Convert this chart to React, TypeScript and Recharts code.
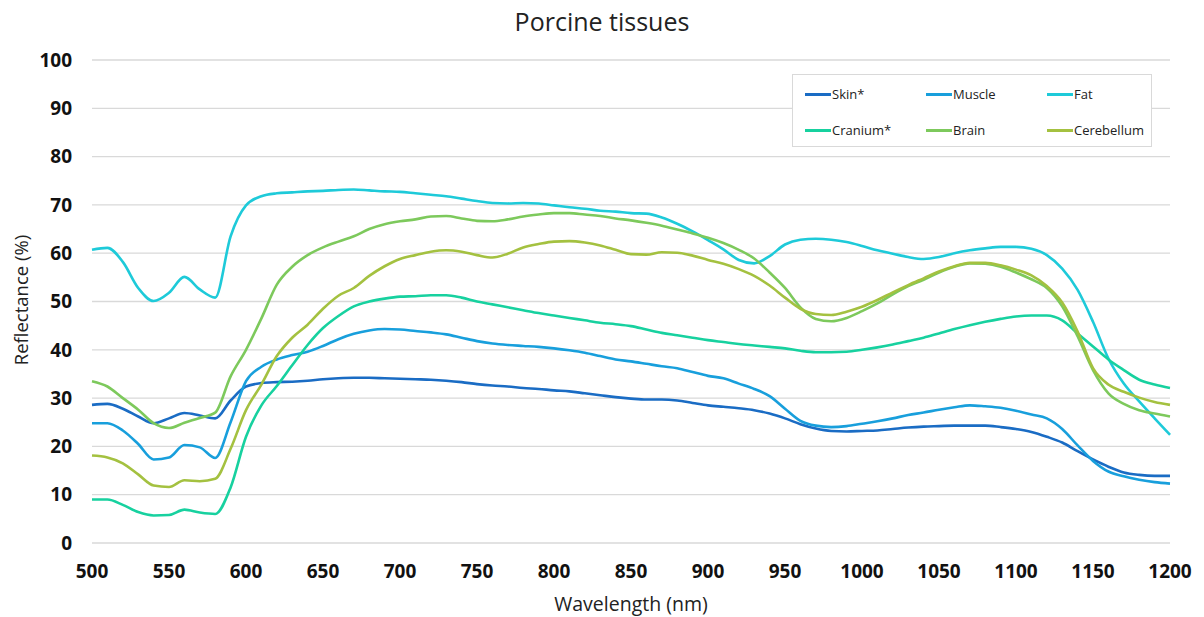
import { LineChart, Line, XAxis, YAxis, CartesianGrid } from "recharts";

const wavelengths: number[] = [];
for (let w = 500; w <= 1200; w += 10) wavelengths.push(w);

const skin = [28.6, 28.8, 27.8, 26.2, 24.8, 25.8, 26.9, 26.4, 25.8, 29.5, 32.4, 33.1, 33.3, 33.4, 33.6, 33.9, 34.1, 34.2, 34.2, 34.1, 34.0, 33.9, 33.8, 33.6, 33.3, 32.9, 32.6, 32.4, 32.1, 31.9, 31.6, 31.4, 31.0, 30.6, 30.2, 29.9, 29.7, 29.7, 29.5, 29.0, 28.5, 28.2, 27.9, 27.5, 26.8, 25.8, 24.6, 23.7, 23.2, 23.1, 23.2, 23.3, 23.6, 23.9, 24.1, 24.2, 24.3, 24.3, 24.3, 24.0, 23.6, 23.0, 22.0, 20.8, 19.0, 17.3, 15.8, 14.6, 14.1, 13.9, 13.9];
const muscle = [24.8, 24.8, 23.3, 20.5, 17.3, 17.7, 20.3, 19.8, 17.6, 25.0, 33.5, 36.5, 38.0, 38.9, 39.6, 40.8, 42.2, 43.3, 44.0, 44.3, 44.2, 43.9, 43.6, 43.2, 42.5, 41.8, 41.3, 41.0, 40.8, 40.6, 40.3, 39.9, 39.4, 38.7, 38.0, 37.6, 37.1, 36.6, 36.2, 35.4, 34.6, 34.1, 33.0, 31.9, 30.4, 27.8, 25.3, 24.3, 24.0, 24.2, 24.7, 25.2, 25.8, 26.5, 27.0, 27.6, 28.1, 28.5, 28.3, 28.0, 27.4, 26.6, 25.8, 23.6, 20.2, 17.0, 14.8, 13.8, 13.1, 12.6, 12.3];
const fat = [60.7, 61.1, 58.2, 52.8, 50.1, 51.8, 55.1, 52.5, 50.8, 63.5, 69.9, 71.8, 72.4, 72.6, 72.8, 72.9, 73.1, 73.2, 73.0, 72.8, 72.7, 72.4, 72.1, 71.8, 71.3, 70.8, 70.4, 70.3, 70.4, 70.3, 69.9, 69.5, 69.2, 68.8, 68.6, 68.3, 68.2, 67.4, 66.1, 64.5, 62.7, 60.8, 58.6, 57.9, 59.4, 61.8, 62.8, 63.0, 62.8, 62.3, 61.5, 60.6, 59.9, 59.2, 58.8, 59.2, 60.0, 60.6, 61.0, 61.3, 61.3, 60.9, 59.6, 56.8, 52.4, 45.8, 38.2, 33.0, 29.3, 25.8, 22.4];
const cranium = [9.0, 9.0, 7.9, 6.4, 5.7, 5.8, 6.9, 6.3, 6.0, 11.5, 22.0, 28.5, 32.5, 36.8, 41.0, 44.5, 47.0, 49.0, 50.0, 50.6, 51.0, 51.1, 51.3, 51.3, 50.8, 50.0, 49.4, 48.8, 48.2, 47.6, 47.1, 46.6, 46.1, 45.6, 45.3, 44.9, 44.2, 43.5, 43.0, 42.5, 42.0, 41.6, 41.2, 40.9, 40.6, 40.3, 39.8, 39.5, 39.5, 39.6, 40.0, 40.5, 41.1, 41.8, 42.5, 43.4, 44.3, 45.1, 45.8, 46.4, 46.9, 47.1, 47.1, 46.1, 43.4, 40.7, 38.0, 35.8, 33.8, 32.8, 32.1];
const brain = [33.5, 32.4, 30.0, 27.6, 24.8, 23.8, 24.9, 25.9, 27.0, 34.5, 40.0, 46.5, 53.5, 57.2, 59.6, 61.2, 62.4, 63.5, 65.0, 66.0, 66.6, 67.0, 67.6, 67.7, 67.2, 66.7, 66.6, 67.0, 67.6, 68.0, 68.3, 68.3, 68.0, 67.7, 67.2, 66.8, 66.3, 65.7, 64.9, 64.1, 63.2, 62.1, 60.7, 58.9, 56.0, 52.8, 48.8, 46.4, 45.9, 46.6, 48.0, 49.6, 51.5, 53.2, 54.5, 56.0, 57.2, 57.9, 57.8, 57.2, 56.0, 54.6, 52.8, 49.0, 42.8, 35.8, 31.0, 28.8, 27.5, 26.8, 26.2];
const cerebellum = [18.1, 17.7, 16.5, 14.2, 11.9, 11.6, 13.0, 12.8, 13.3, 19.5, 27.5, 32.8, 38.7, 42.5, 45.2, 48.5, 51.2, 52.8, 55.3, 57.3, 58.8, 59.6, 60.3, 60.6, 60.3, 59.6, 59.1, 59.9, 61.2, 61.9, 62.4, 62.5, 62.2, 61.6, 60.7, 59.8, 59.7, 60.2, 60.1, 59.5, 58.6, 57.8, 56.7, 55.3, 53.3, 50.8, 48.5, 47.4, 47.2, 47.9, 48.9, 50.3, 51.9, 53.4, 54.8, 56.2, 57.3, 58.0, 58.0, 57.5, 56.6, 55.4, 53.2, 49.8, 43.8, 36.2, 32.8, 31.3, 30.1, 29.2, 28.6];

const xTicks = [500, 550, 600, 650, 700, 750, 800, 850, 900, 950, 1000, 1050, 1100, 1150, 1200];
const yTicks = [0, 10, 20, 30, 40, 50, 60, 70, 80, 90, 100];

const series = [
  { key: "skin", name: "Skin*", color: "#1A6CC4", values: skin },
  { key: "muscle", name: "Muscle", color: "#189FDC", values: muscle },
  { key: "fat", name: "Fat", color: "#1ECAD9", values: fat },
  { key: "cranium", name: "Cranium*", color: "#17D19F", values: cranium },
  { key: "brain", name: "Brain", color: "#7DC95C", values: brain },
  { key: "cerebellum", name: "Cerebellum", color: "#A4C140", values: cerebellum },
];

const data = wavelengths.map((w, i) => {
  const row: Record<string, number> = { wl: w };
  series.forEach((s) => (row[s.key] = s.values[i]));
  return row;
});

const FONT = "'Open Sans', 'Liberation Sans', sans-serif";

function LegendBox() {
  return (
    <div
      style={{
        position: "absolute",
        left: 784,
        top: 66,
        zIndex: 2,
        border: "1px solid #D9D9D9",
        background: "#fff",
        width: 360,
        height: 73,
        boxSizing: "border-box",
        display: "grid",
        gridTemplateColumns: "121px 121px 118px",
        gridTemplateRows: "36px 36px",
        paddingTop: 1,
        fontFamily: FONT,
        fontSize: 13,
        color: "#222",
      }}
    >
      {series.map((s) => (
        <div key={s.key} style={{ display: "flex", alignItems: "center", paddingLeft: 12 }}>
          <span style={{ display: "inline-block", width: 26, height: 3, background: s.color, marginRight: 1 }} />
          <span>{s.name}</span>
        </div>
      ))}
    </div>
  );
}

export default function App() {
  return (
    <div style={{ position: "relative", width: 1188, height: 609, fontFamily: FONT }}>
      <LineChart width={1188} height={601} data={data} margin={{ top: 52, right: 26, bottom: 36, left: 0 }}>
        <CartesianGrid vertical={false} stroke="#D9D9D9" strokeWidth={1.3} />
        <XAxis
          dataKey="wl"
          type="number"
          domain={[500, 1200]}
          ticks={xTicks}
          axisLine={false}
          tickLine={false}
          tick={{ fill: "#111", fontSize: 19, fontWeight: 700, fontFamily: FONT }}
          tickMargin={16}
          height={30}
        />
        <YAxis
          type="number"
          domain={[0, 100]}
          ticks={yTicks}
          axisLine={false}
          tickLine={false}
          tick={{ fill: "#111", fontSize: 19, fontWeight: 700, fontFamily: FONT }}
          tickMargin={14}
          width={84}
        />
        {series.map((s) => (
          <Line
            key={s.key}
            dataKey={s.key}
            name={s.name}
            type="monotone"
            stroke={s.color}
            strokeWidth={2.6}
            dot={false}
            activeDot={false}
            isAnimationActive={false}
          />
        ))}
      </LineChart>
      <LegendBox />
      <div style={{ position: "absolute", zIndex: 2, top: -4, left: 0, width: 1188, textAlign: "center", fontSize: 25, color: "#222" }}>
        Porcine tissues
      </div>
      <div
        style={{
          position: "absolute",
          zIndex: 2,
          left: 12,
          top: 292,
          transform: "translate(-50%, -50%) rotate(-90deg)",
          fontSize: 18.5,
          color: "#222",
          whiteSpace: "nowrap",
        }}
      >
        Reflectance (%)
      </div>
      <div style={{ position: "absolute", zIndex: 2, left: 84, width: 1078, top: 582, textAlign: "center", fontSize: 19.5, color: "#222" }}>
        Wavelength (nm)
      </div>
    </div>
  );
}
